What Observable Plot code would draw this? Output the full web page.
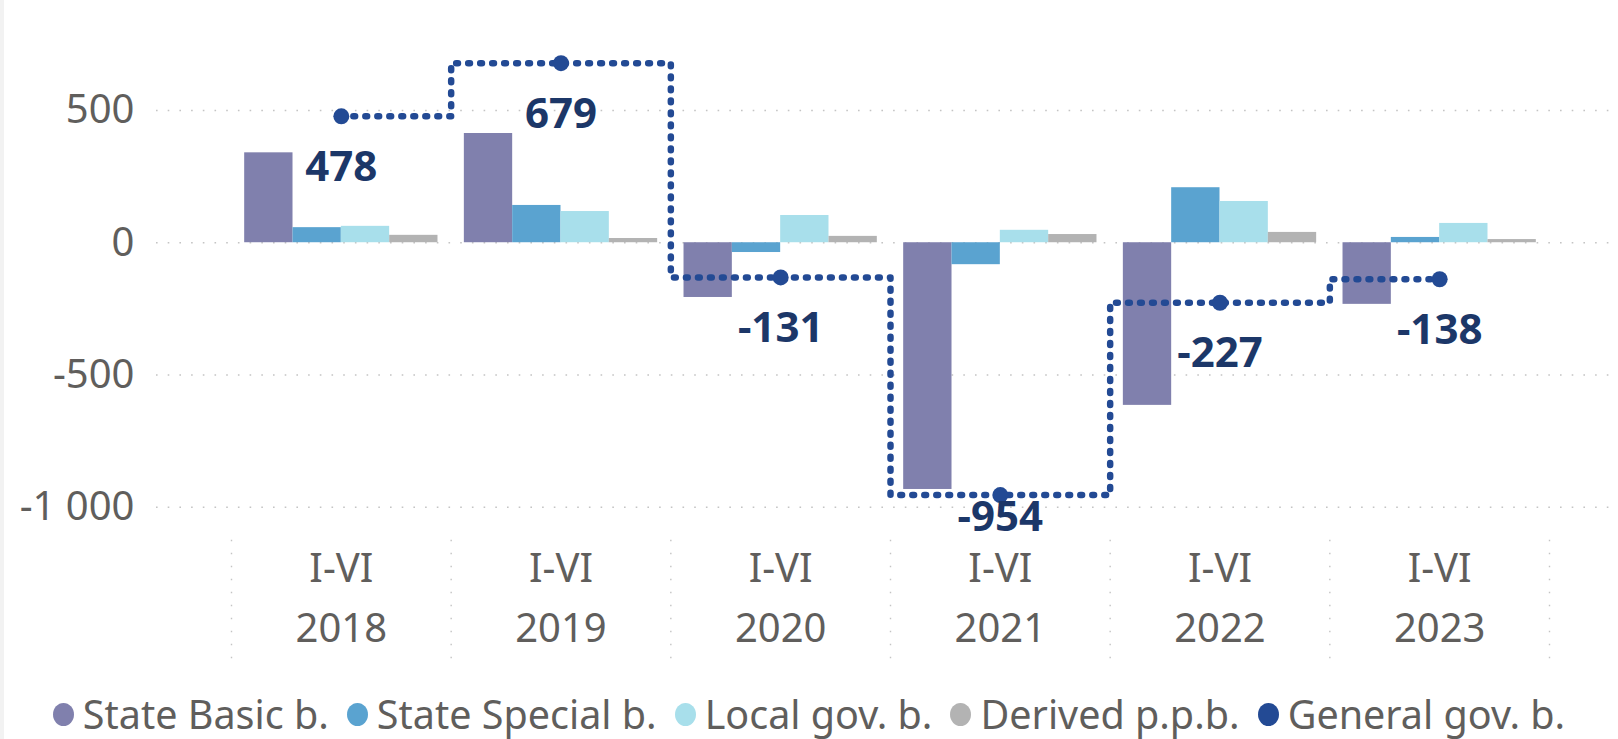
<!DOCTYPE html>
<html>
<head>
<meta charset="utf-8">
<script src="https://cdn.jsdelivr.net/npm/d3@7"></script>
<script src="https://cdn.jsdelivr.net/npm/@observablehq/plot@0.6"></script>
<style>
  html, body { margin: 0; padding: 0; background: #ffffff; }
  body { width: 1618px; height: 739px; overflow: hidden; position: relative; font-family: "Noto Sans", sans-serif; }
  #strip { position: absolute; left: 0; top: 0; width: 4px; height: 739px; background: #f2f2f2; }
  #chart { position: absolute; left: 0; top: 0; }
  #legend { position: absolute; left: 0; top: 691px; width: 1618px; height: 46px; display: flex; justify-content: center; align-items: center; font-size: 39.5px; color: #605e5c; white-space: nowrap; }
  .item { display: flex; align-items: center; margin: 0 9px 0 9px; }
  .sw { width: 21px; height: 23px; border-radius: 50%; margin-right: 9px; flex: none; }
</style>
</head>
<body>
<div id="strip"></div>
<div id="chart"></div>
<div id="legend"></div>
<script>
// ---- data ----
const periods = ["I-VI", "I-VI", "I-VI", "I-VI", "I-VI", "I-VI"];
const years = ["2018", "2019", "2020", "2021", "2022", "2023"];
const seriesNames = ["State Basic b.", "State Special b.", "Local gov. b.", "Derived p.p.b."];
const lineName = "General gov. b.";
const stateBasic   = [340, 413, -207, -933, -615, -233];
const stateSpecial = [57, 141, -37, -83, 208, 20];
const localGov     = [62, 118, 103, 47, 156, 73];
const derivedPPB   = [28, 16, 24, 31, 39, 12];
const generalGov   = [478, 679, -131, -954, -227, -138];
const yTicks = [500, 0, -500, -1000];

// ---- styles ----
const barColors = ["#8080ad", "#5aa3d0", "#a8dfeb", "#b3b3b3"];
const lineColor = "#234a94";
const labelColor = "#1c3768";
const textGray = "#605e5c";

const seriesValues = [stateBasic, stateSpecial, localGov, derivedPPB];
const bars = [];
years.forEach((yr, i) => {
  seriesValues.forEach((vals, j) => {
    bars.push({i, j, series: seriesNames[j], value: vals[i]});
  });
});
const lineData = years.map((yr, i) => ({i, year: yr, value: generalGov[i]}));

const pad = 0.06, bw = 0.22;
const fmt = d3.formatLocale({decimal: ",", thousands: " ", grouping: [3], currency: ["", ""], minus: "-"}).format(",");

const chart = Plot.plot({
  width: 1618,
  height: 670,
  marginLeft: 156,
  marginRight: 8,
  marginTop: 20,
  marginBottom: 140,
  style: {fontFamily: "'Noto Sans', sans-serif", fontSize: "40px", color: textGray, background: "transparent"},
  x: {type: "linear", domain: [0, 6], range: [231, 1549], axis: null},
  y: {domain: [-1000, 500], range: [506.7, 110], axis: null},
  color: {domain: seriesNames, range: barColors},
  marks: [
    Plot.ruleY(yTicks, {stroke: "#c4c4c4", strokeWidth: 1.6, strokeDasharray: "1.6 10.1"}),
    Plot.ruleX(d3.range(7), {y1: -1125, y2: -1590, stroke: "#c4c4c4", strokeWidth: 1.4, strokeDasharray: "1.5 11.5"}),
    Plot.axisY(yTicks, {tickSize: 0, tickPadding: 22, tickFormat: fmt, fontSize: 40, fill: textGray, label: null}),
    Plot.rect(bars, {
      x1: d => d.i + pad + d.j * bw,
      x2: d => d.i + pad + (d.j + 1) * bw,
      y1: d => 0,
      y2: "value",
      fill: "series"
    }),
    Plot.line(lineData, {x: d => d.i + 0.5, y: "value", curve: "step", stroke: lineColor, strokeWidth: 6.5, strokeDasharray: "1.8 10.2", strokeLinecap: "round"}),
    Plot.dot(lineData, {x: d => d.i + 0.5, y: "value", r: 8, fill: lineColor, stroke: "none"}),
    Plot.text(lineData, {
      x: d => d.i + 0.5,
      y: d => Math.max(d.value - 193, -1040),
      text: d => fmt(d.value),
      fontSize: 42, fontWeight: "bold", fill: labelColor, lineAnchor: "middle"
    }),
    Plot.text(d3.range(6), {x: i => i + 0.5, text: i => periods[i], frameAnchor: "bottom", dy: 39, lineAnchor: "middle", fontSize: 40, fill: textGray}),
    Plot.text(d3.range(6), {x: i => i + 0.5, text: i => years[i], frameAnchor: "bottom", dy: 99, lineAnchor: "middle", fontSize: 40, fill: textGray})
  ]
});
document.getElementById("chart").appendChild(chart);

// legend
const legend = document.getElementById("legend");
const legendItems = seriesNames.map((n, k) => [n, barColors[k]]).concat([[lineName, lineColor]]);
legendItems.forEach(([name, col]) => {
  const it = document.createElement("div");
  it.className = "item";
  const sw = document.createElement("span");
  sw.className = "sw";
  sw.style.background = col;
  const tx = document.createElement("span");
  tx.textContent = name;
  it.appendChild(sw);
  it.appendChild(tx);
  legend.appendChild(it);
});
</script>
</body>
</html>
